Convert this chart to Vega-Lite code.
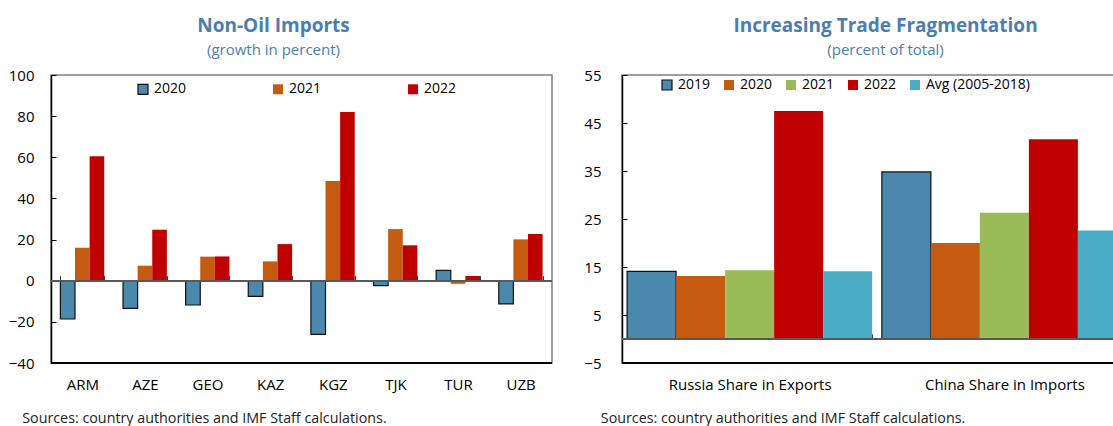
{
  "$schema": "https://vega.github.io/schema/vega-lite/v6.json",
  "background": "white",
  "padding": {"left": 0, "top": 16, "right": 0, "bottom": 0},
  "spacing": 27,
  "resolve": {"scale": {"color": "independent", "stroke": "independent", "xOffset": "independent", "x": "independent", "y": "independent"}, "legend": {"color": "independent", "stroke": "independent"}},
  "config": {
    "font": "Open Sans",
    "view": {"stroke": "#808080", "strokeWidth": 1.5},
    "title": {"fontSize": 19, "fontWeight": "bold", "color": "#4A7EB2", "subtitleColor": "#4A7EB2", "subtitleFontSize": 15, "subtitleFontWeight": "normal", "anchor": "middle", "frame": "group", "subtitlePadding": 7},
    "axis": {"labelColor": "#000", "labelFontSize": 15, "grid": false},
    "legend": {"labelFontSize": 14, "labelColor": "#000", "symbolType": "square", "symbolSize": 100, "symbolStrokeWidth": 1.2, "title": null, "orient": "none", "direction": "horizontal", "padding": 0, "labelOffset": 4}
  },
  "hconcat": [
    {
      "width": 501,
      "height": 288,
      "title": {"text": "Non-Oil Imports", "subtitle": "(growth in percent)", "dx": -28, "offset": 10},
      "data": {"values": [
        {"country": "ARM", "year": "2020", "value": -18.6},
        {"country": "ARM", "year": "2021", "value": 16.0},
        {"country": "ARM", "year": "2022", "value": 60.5},
        {"country": "AZE", "year": "2020", "value": -13.4},
        {"country": "AZE", "year": "2021", "value": 7.3},
        {"country": "AZE", "year": "2022", "value": 24.8},
        {"country": "GEO", "year": "2020", "value": -11.8},
        {"country": "GEO", "year": "2021", "value": 11.7},
        {"country": "GEO", "year": "2022", "value": 11.8},
        {"country": "KAZ", "year": "2020", "value": -7.6},
        {"country": "KAZ", "year": "2021", "value": 9.4},
        {"country": "KAZ", "year": "2022", "value": 17.8},
        {"country": "KGZ", "year": "2020", "value": -26.1},
        {"country": "KGZ", "year": "2021", "value": 48.5},
        {"country": "KGZ", "year": "2022", "value": 82.0},
        {"country": "TJK", "year": "2020", "value": -2.4},
        {"country": "TJK", "year": "2021", "value": 25.1},
        {"country": "TJK", "year": "2022", "value": 17.2},
        {"country": "TUR", "year": "2020", "value": 5.0},
        {"country": "TUR", "year": "2021", "value": -1.5},
        {"country": "TUR", "year": "2022", "value": 2.3},
        {"country": "UZB", "year": "2020", "value": -11.3},
        {"country": "UZB", "year": "2021", "value": 20.1},
        {"country": "UZB", "year": "2022", "value": 22.7}
      ]},
      "layer": [
        {
          "mark": {"type": "bar", "strokeWidth": 1.2},
          "encoding": {
            "x": {"field": "country", "type": "nominal", "sort": null,
              "scale": {"paddingInner": 0.3, "paddingOuter": 0.15},
              "axis": {"title": "Sources: country authorities and IMF Staff calculations.", "offset": -87.3, "domain": false, "ticks": true, "tickBand": "extent", "tickSize": 5, "tickColor": "#333", "tickWidth": 1, "labelAngle": 0, "labelPadding": 97, "titleX": -29.3, "titleY": 146.8, "titleAlign": "left", "titleAnchor": "start", "titleBaseline": "alphabetic", "titleFontSize": 14.3, "titleFontWeight": "normal", "titleColor": "#222"}},
            "xOffset": {"field": "year", "type": "nominal", "sort": ["2020", "2021", "2022"]},
            "y": {"field": "value", "type": "quantitative",
              "scale": {"domain": [-40, 100], "nice": false},
              "axis": {"title": null, "values": [-40, -20, 0, 20, 40, 60, 80, 100], "domainColor": "#000", "domainWidth": 1.5, "tickSize": -5, "tickColor": "#000", "labelPadding": 22, "minExtent": 50, "maxExtent": 50}},
            "color": {"field": "year", "type": "nominal",
              "scale": {"domain": ["2020", "2021", "2022"], "range": ["#4A89AD", "#C55A11", "#C00000"]},
              "legend": {"legendX": 85, "legendY": 7, "columns": 3, "gridAlign": "all", "columnPadding": 83}},
            "stroke": {"field": "year", "type": "nominal",
              "scale": {"domain": ["2020", "2021", "2022"], "range": ["#111111", "transparent", "transparent"]}}
          }
        },
        {"mark": {"type": "rule", "color": "#595959", "strokeWidth": 1.5}, "encoding": {"y": {"datum": 0}}},
        {"mark": {"type": "rule", "color": "#000", "strokeWidth": 1.5}, "encoding": {"y": {"datum": -40}}}
      ]
    },
    {
      "width": 510,
      "height": 288,
      "title": {"text": "Increasing Trade Fragmentation", "subtitle": "(percent of total)", "dx": 8.5, "offset": 10},
      "data": {"values": [
        {"group": "Russia Share in Exports", "series": "2019", "value": 14.1},
        {"group": "Russia Share in Exports", "series": "2020", "value": 13.1},
        {"group": "Russia Share in Exports", "series": "2021", "value": 14.3},
        {"group": "Russia Share in Exports", "series": "2022", "value": 47.5},
        {"group": "Russia Share in Exports", "series": "Avg (2005-2018)", "value": 14.1},
        {"group": "China Share in Imports", "series": "2019", "value": 34.8},
        {"group": "China Share in Imports", "series": "2020", "value": 20.0},
        {"group": "China Share in Imports", "series": "2021", "value": 26.3},
        {"group": "China Share in Imports", "series": "2022", "value": 41.6},
        {"group": "China Share in Imports", "series": "Avg (2005-2018)", "value": 22.6}
      ]},
      "layer": [
        {
          "mark": {"type": "bar", "strokeWidth": 1.2},
          "encoding": {
            "x": {"field": "group", "type": "nominal", "sort": null,
              "scale": {"paddingInner": 0.038, "paddingOuter": 0.02},
              "axis": {"title": "Sources: country authorities and IMF Staff calculations.", "offset": -29, "domain": false, "ticks": true, "tickBand": "extent", "tickSize": 5, "tickColor": "#333", "tickWidth": 1, "labelAngle": 0, "labelPadding": 38.5, "titleX": -21.7, "titleY": 88.5, "titleAlign": "left", "titleAnchor": "start", "titleBaseline": "alphabetic", "titleFontSize": 14.3, "titleFontWeight": "normal", "titleColor": "#222"}},
            "xOffset": {"field": "series", "type": "nominal", "sort": ["2019", "2020", "2021", "2022", "Avg (2005-2018)"]},
            "y": {"field": "value", "type": "quantitative",
              "scale": {"domain": [-5, 55], "nice": false},
              "axis": {"title": null, "values": [-5, 5, 15, 25, 35, 45, 55], "domainColor": "#000", "domainWidth": 1.5, "tickSize": -5, "tickColor": "#000", "labelPadding": 26, "minExtent": 40, "maxExtent": 40}},
            "color": {"field": "series", "type": "nominal",
              "scale": {"domain": ["2019", "2020", "2021", "2022", "Avg (2005-2018)"], "range": ["#4A89AD", "#C55A11", "#9BBB59", "#C00000", "#4BACC6"]},
              "legend": {"legendX": 38, "legendY": 3, "columns": 5, "gridAlign": "none", "columnPadding": 10}},
            "stroke": {"field": "series", "type": "nominal",
              "scale": {"domain": ["2019", "2020", "2021", "2022", "Avg (2005-2018)"], "range": ["#111111", "transparent", "transparent", "transparent", "transparent"]}}
          }
        },
        {"mark": {"type": "rule", "color": "#595959", "strokeWidth": 1.5}, "encoding": {"y": {"datum": 0}}},
        {"mark": {"type": "rule", "color": "#000", "strokeWidth": 1.5}, "encoding": {"y": {"datum": -5}}}
      ]
    }
  ]
}
